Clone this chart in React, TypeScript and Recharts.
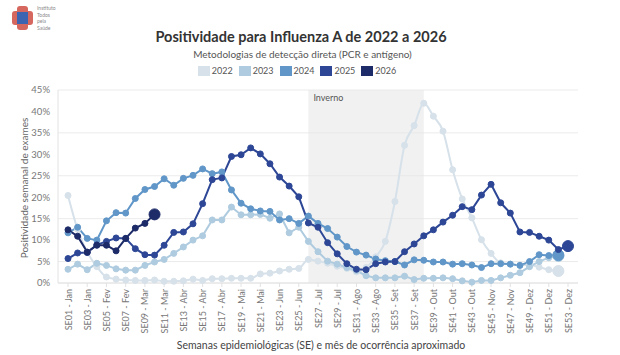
import React from 'react';
import { LineChart, Line, XAxis, YAxis, CartesianGrid, ReferenceArea } from 'recharts';

const weekLabels = [
  'SE01 - Jan', 'SE02 - Jan', 'SE03 - Jan', 'SE04 - Jan', 'SE05 - Fev', 'SE06 - Fev', 'SE07 - Fev', 'SE08 - Fev',
  'SE09 - Mar', 'SE10 - Mar', 'SE11 - Mar', 'SE12 - Mar', 'SE13 - Abr', 'SE14 - Abr', 'SE15 - Abr', 'SE16 - Abr',
  'SE17 - Abr', 'SE18 - Mai', 'SE19 - Mai', 'SE20 - Mai', 'SE21 - Mai', 'SE22 - Jun', 'SE23 - Jun', 'SE24 - Jun',
  'SE25 - Jun', 'SE26 - Jun', 'SE27 - Jul', 'SE28 - Jul', 'SE29 - Jul', 'SE30 - Jul', 'SE31 - Ago', 'SE32 - Ago',
  'SE33 - Ago', 'SE34 - Ago', 'SE35 - Set', 'SE36 - Set', 'SE37 - Set', 'SE38 - Set', 'SE39 - Out', 'SE40 - Out',
  'SE41 - Out', 'SE42 - Out', 'SE43 - Out', 'SE44 - Nov', 'SE45 - Nov', 'SE46 - Nov', 'SE47 - Nov', 'SE48 - Dez',
  'SE49 - Dez', 'SE50 - Dez', 'SE51 - Dez', 'SE52 - Dez', 'SE53 - Dez',
];

const y2022 = [
  20.4, 12.5, 7.2, 3.8, 1.4, 0.9, 0.7, 0.6, 0.6, 0.7, 0.4, 0.4, 0.5, 0.9, 0.6, 1.0, 1.0, 1.1, 1.1, 1.1,
  2.1, 2.3, 2.8, 3.2, 3.4, 5.5, 5.1, 4.6, 3.9, 3.4, 2.6, 3.6, 6.1, 9.7, 19.0, 32.1, 36.7, 41.9, 38.9, 35.4,
  26.4, 19.6, 15.2, 10.1, 6.9, 4.7, 4.4, 4.2, 4.2, 3.7, 3.1, 2.8,
];
const y2023 = [
  3.2, 4.4, 3.1, 4.6, 4.1, 3.3, 3.0, 3.0, 4.1, 4.9, 5.5, 6.9, 8.4, 10.0, 11.0, 14.7, 14.7, 17.7, 15.9, 15.9,
  16.0, 15.1, 16.1, 11.7, 13.0, 9.7, 7.3, 5.1, 4.4, 3.6, 2.9, 1.7, 1.2, 1.2, 1.2, 1.6, 0.8, 1.1, 1.1, 1.2,
  1.0, 0.5, 0.2, 0.6, 0.6, 1.2, 1.8, 2.4, 3.8, 5.0, 5.9, 6.3,
];
const y2024 = [
  11.7, 13.0, 10.4, 10.0, 14.5, 16.4, 16.3, 19.7, 21.8, 22.5, 24.3, 22.8, 24.4, 25.1, 26.6, 25.5, 25.9, 21.7, 18.6, 17.3,
  16.8, 16.7, 14.7, 15.0, 13.9, 15.6, 13.9, 12.7, 10.7, 8.5, 7.2, 6.5, 5.6, 5.2, 5.0, 4.2, 5.4, 5.3, 4.9, 4.9,
  4.4, 4.5, 4.2, 3.6, 4.5, 4.5, 4.4, 4.1, 5.0, 6.6, 6.4, 6.5,
];
const y2025 = [
  5.7, 7.0, 7.1, 8.9, 9.7, 10.5, 10.4, 8.0, 6.6, 6.5, 8.8, 11.8, 11.9, 13.8, 18.5, 24.1, 24.5, 29.5, 29.9, 31.5,
  30.1, 27.8, 24.7, 22.6, 20.1, 14.0, 13.0, 9.4, 6.8, 4.5, 3.2, 3.1, 4.5, 4.9, 5.0, 7.3, 9.1, 11.0, 12.4, 14.2,
  15.8, 17.8, 17.1, 20.5, 23.0, 18.7, 16.3, 11.9, 11.8, 10.9, 10.0, 7.8, 8.6,
];
const y2026 = [12.4, 10.9, 7.2, 8.8, 8.8, 7.5, 10.4, 12.8, 13.9, 16.0];

const yTicks = [0, 5, 10, 15, 20, 25, 30, 35, 40, 45];
const seriesKeys = ['2022', '2023', '2024', '2025', '2026'];
const seriesColors = ['#d6e1ea', '#aecbdf', '#6096c8', '#2d4796', '#1d2b68'];
const seriesValues = [y2022, y2023, y2024, y2025, y2026];
const winterStart = 'SE26 - Jun';
const winterEnd = 'SE38 - Set';

const data = weekLabels.map((label, i) => {
  const row: any = { label };
  seriesKeys.forEach((k, s) => {
    const v = seriesValues[s][i];
    row[k] = v === undefined ? null : v;
  });
  return row;
});

const makeDot = (color: string, lastIndex: number) => (props: any) => {
  const { cx, cy, index, value } = props;
  if (cx == null || cy == null || value == null || isNaN(cy)) return <g key={`e${index}`} />;
  const big = index === lastIndex;
  return <circle key={`d${index}`} cx={cx} cy={cy} r={big ? 5.5 : 3} fill={color} stroke={color} strokeWidth={1} />;
};

const XTick = (props: any) => {
  const { x, y, payload } = props;
  return (
    <text x={x} y={y} transform={`rotate(-90, ${x}, ${y})`} textAnchor="end" dominantBaseline="central" fontSize={9} fill="#777" fontFamily="Lato, sans-serif">
      {payload.value}
    </text>
  );
};

export default function App() {
  const font = 'Lato, sans-serif';
  return (
    <div style={{ position: 'absolute', left: 0, top: 0, width: 620, height: 355, background: '#fff', fontFamily: font, overflow: 'hidden' }}>
      {/* logo */}
      <div style={{ position: 'absolute', left: 17, top: 6, width: 11, height: 24, background: '#d6675e', borderRadius: 3 }} />
      <div style={{ position: 'absolute', left: 12, top: 11, width: 21, height: 14, background: '#d6675e', borderRadius: 3 }} />
      <div style={{ position: 'absolute', left: 17, top: 12, width: 11, height: 12, background: '#3c64b1' }} />
      <div style={{ position: 'absolute', left: 37, top: 5, fontSize: 5, lineHeight: '6.5px', color: '#8a8a8a' }}>
        Instituto<br />Todos<br />pela<br />Saúde
      </div>

      <div style={{ position: 'absolute', left: 0, width: 602, top: 28, textAlign: 'center', fontSize: 14.5, fontWeight: 700, color: '#333' }}>
        Positividade para Influenza A de 2022 a 2026
      </div>
      <div style={{ position: 'absolute', left: 0, width: 605, top: 48, textAlign: 'center', fontSize: 10, color: '#555' }}>
        Metodologias de detecção direta (PCR e antígeno)
      </div>
      <div style={{ position: 'absolute', left: 0, width: 594, top: 65, display: 'flex', justifyContent: 'center', fontSize: 9, color: '#555' }}>
        {seriesKeys.map((k, i) => (
          <div key={k} style={{ display: 'flex', alignItems: 'center', marginRight: i < 4 ? 6 : 0 }}>
            <div style={{ width: 12, height: 10, background: seriesColors[i], marginRight: 2 }} />
            <span>{k}</span>
          </div>
        ))}
      </div>

      <div style={{ position: 'absolute', left: 24, top: 188, width: 0, height: 0 }}>
        <div style={{ position: 'absolute', left: 0, top: 0, transform: 'translate(-50%, -50%) rotate(-90deg)', whiteSpace: 'nowrap', fontSize: 10, color: '#666' }}>
          Positividade semanal de exames
        </div>
      </div>

      <div style={{ position: 'absolute', left: 0, width: 642, top: 339, textAlign: 'center', fontSize: 10.5, color: '#444' }}>
        Semanas epidemiológicas (SE) e mês de ocorrência aproximado
      </div>

      <div style={{ position: 'absolute', left: 0, top: 0 }}>
        <LineChart width={620} height={355} data={data} margin={{ top: 90, right: 42, left: 0, bottom: 0 }}>
          <CartesianGrid vertical={false} stroke="#ebebeb" />
          <ReferenceArea x1={winterStart} x2={winterEnd} y1={0} y2={45} fill="#e6e6e6" fillOpacity={0.55} stroke="none"
            label={{ value: 'Inverno', position: 'insideTopLeft', fill: '#555', fontSize: 9, fontFamily: font, offset: 5 }} />
          <XAxis dataKey="label" scale="point" padding={{ left: 10, right: 10 }} interval={1} height={72}
            tick={<XTick />} tickSize={4} tickMargin={2} axisLine={{ stroke: '#e2e2e2' }} tickLine={{ stroke: '#e2e2e2' }} />
          <YAxis domain={[0, 45]} ticks={yTicks} tickFormatter={(v: number) => `${v}%`} width={58}
            tick={{ fontSize: 9.5, fill: '#777', fontFamily: font }} tickLine={false} axisLine={{ stroke: '#e2e2e2' }} />
          {seriesKeys.map((k, i) => (
            <Line key={k} dataKey={k} type={k === '2022' ? 'monotone' : 'linear'} stroke={seriesColors[i]} strokeWidth={2}
              dot={makeDot(seriesColors[i], seriesValues[i].length - 1)} activeDot={false} isAnimationActive={false} connectNulls={false} />
          ))}
        </LineChart>
      </div>
    </div>
  );
}
